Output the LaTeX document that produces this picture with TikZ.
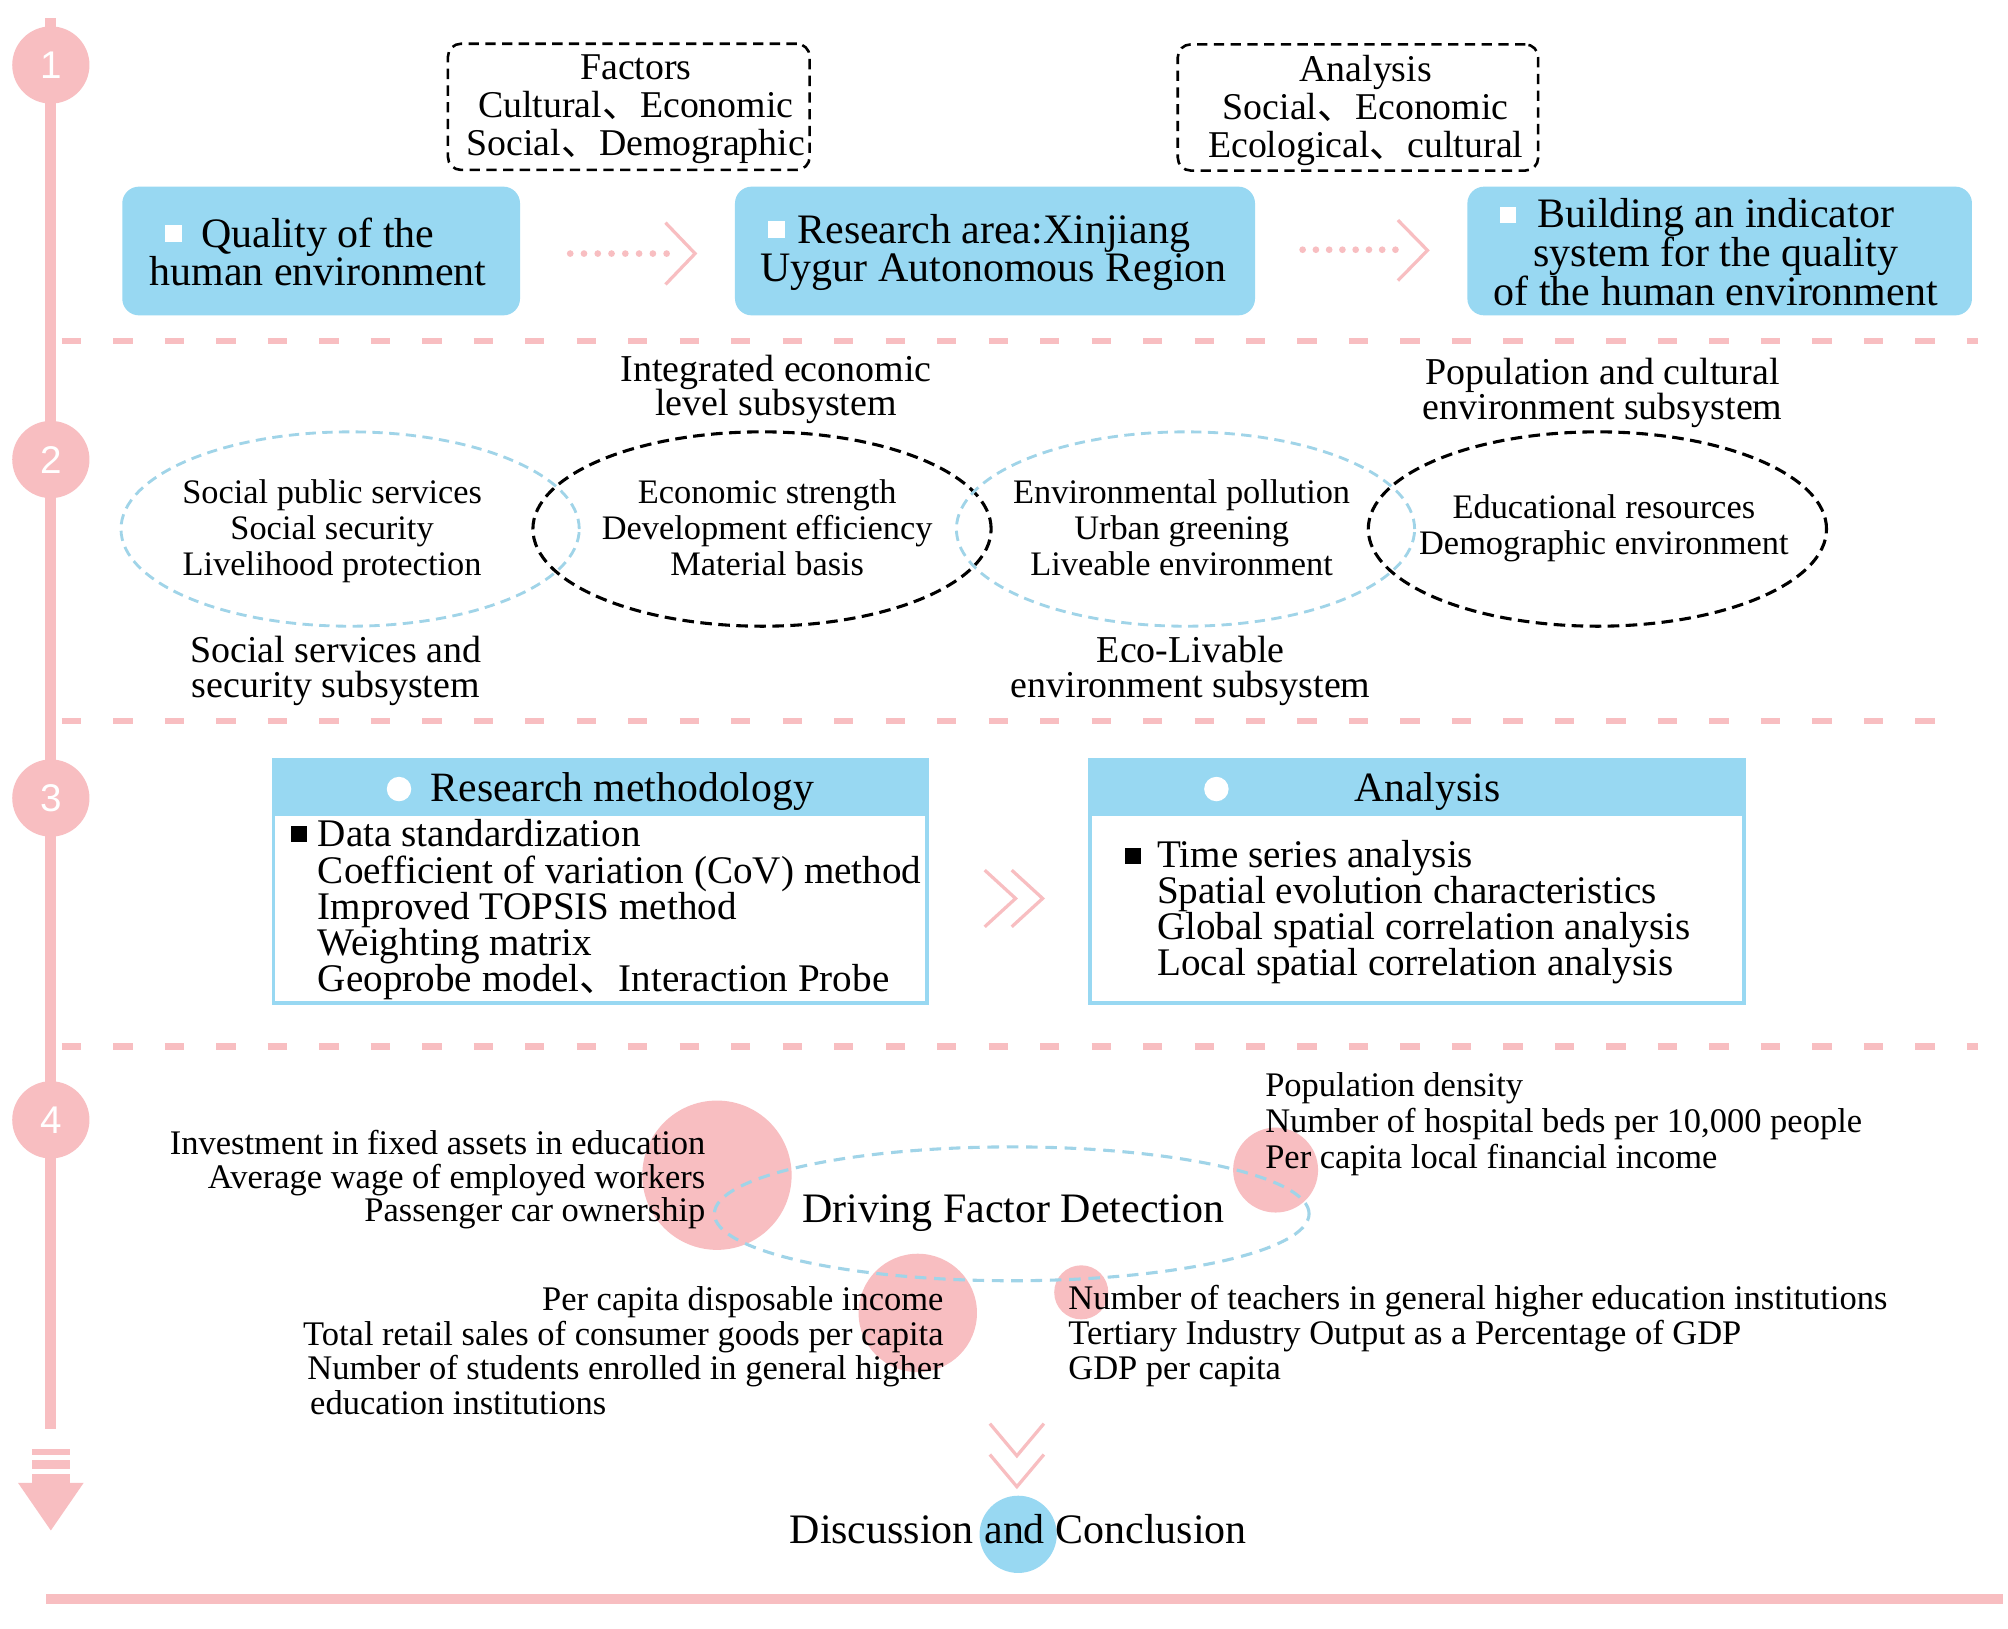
\documentclass[tikz,border=0pt]{standalone}
\usepackage{fontspec}
\setmainfont{Liberation Serif}
\newfontfamily\numfont{Liberation Sans}
\newfontfamily\cjkfont{Noto Sans CJK SC}
\newcommand{\mydun}{{\cjkfont 、}}
\usetikzlibrary{shapes.geometric}
\definecolor{pinkc}{RGB}{248,190,193}
\definecolor{bluebox}{RGB}{152,216,242}
\definecolor{bluedash}{RGB}{160,212,232}
\begin{document}
\begin{tikzpicture}[x=1pt,y=-1pt,
  txt/.style={inner sep=0pt,outer sep=0pt},
  fsA/.style={txt,font=\fontsize{32.6}{30}\selectfont},
  fsB/.style={txt,font=\fontsize{29.4}{29.5}\selectfont},
  fsC/.style={txt,font=\fontsize{26.7}{28}\selectfont},
  fsD/.style={txt,font=\fontsize{29.5}{27}\selectfont},
  fsE/.style={txt,font=\fontsize{32.4}{30}\selectfont},
  fsF/.style={txt,font=\fontsize{30.4}{28}\selectfont},
  fsG/.style={txt,font=\fontsize{26.8}{27}\selectfont},
  numc/.style={circle,fill=pinkc,minimum size=60pt,inner sep=0pt,text=white,font=\numfont\fontsize{30}{30}\selectfont},
  bluebx/.style={rectangle,rounded corners=13pt,fill=bluebox,inner sep=0pt},
  dashbx/.style={rectangle,rounded corners=10pt,draw=black,line width=2pt,dash pattern=on 8pt off 5pt,inner sep=0pt},
  sepline/.style={pinkc,line width=5pt,dash pattern=on 15pt off 25pt},
  bdell/.style={ellipse,draw=bluedash,line width=2.2pt,dash pattern=on 8pt off 5pt,inner sep=0pt,minimum width=356pt,minimum height=151pt},
  kdell/.style={ellipse,draw=black,line width=2.4pt,dash pattern=on 9pt off 5pt,inner sep=0pt,minimum width=356pt,minimum height=151pt},
  whsq/.style={rectangle,fill=white,minimum size=13pt,inner sep=0pt},
  bksq/.style={rectangle,fill=black,minimum size=12.5pt,inner sep=0pt},
  whdot/.style={circle,fill=white,minimum size=19pt,inner sep=0pt},
  pinkcirc/.style={circle,fill=pinkc,inner sep=0pt},
  chev/.style={pinkc,line width=2.5pt},
  methbox/.style={rectangle,draw=bluebox,line width=3pt,fill=white,minimum width=508pt,minimum height=189pt,inner sep=0pt},
  methhead/.style={rectangle,fill=bluebox,minimum width=511pt,minimum height=45pt,inner sep=0pt},
]
\useasboundingbox (0,0) rectangle (1560,1265);
\fill[white] (0,0) rectangle (1560,1265);

% ---------- timeline ----------
\draw[pinkc,line width=8.5pt] (39.5,14) -- (39.5,1110);
\fill[pinkc] (25,1126) rectangle (54,1130);
\fill[pinkc] (25,1134) rectangle (54,1141);
\fill[pinkc] (25,1145) rectangle (54,1152.5);
\fill[pinkc] (14,1152) -- (65,1152) -- (39.5,1189) -- cycle;
\node[numc] (n1) at (39.5,50.5) {1};
\node[numc] (n2) at (39.5,357) {2};
\node[numc] (n3) at (39.5,620) {3};
\node[numc] (n4) at (39.5,870) {4};

% ---------- separators ----------
\draw[sepline] (48,265) -- (1537,265);
\draw[sepline] (48,560) -- (1515,560);
\draw[sepline] (48,813) -- (1537,813);
\draw[pinkc,line width=8pt] (36,1242) -- (1556,1242);

% ---------- section 1 ----------
\node[dashbx,minimum width=281pt,minimum height=98pt] (factors) at (488.5,83) {};
\node[fsB,anchor=base,align=center] (factorsT) at (494,121) {Factors\\Cultural\mydun Economic\\Social\mydun Demographic};
\node[dashbx,minimum width=280pt,minimum height=98pt] (analysis1) at (1055,83.5) {};
\node[fsB,anchor=base,align=center] (analysis1T) at (1061,122.5) {Analysis\\Social\mydun Economic\\Ecological\mydun cultural};

\node[bluebx,minimum width=309pt,minimum height=100pt] (boxA) at (249.5,195) {};
\node[bluebx,minimum width=404pt,minimum height=100pt] (boxB) at (773,195) {};
\node[bluebx,minimum width=392pt,minimum height=100pt] (boxC) at (1336,195) {};
\node[whsq] (bulA) at (135,181.5) {};
\node[whsq] (bulB) at (603,178.5) {};
\node[whsq] (bulC) at (1171.5,167) {};
\node[fsA,anchor=base,align=center] (boxAT) at (247,222) {Quality of the\\human environment};
\node[fsA,anchor=base,align=center] (boxBT) at (772,219) {Research area:Xinjiang\\Uygur Autonomous Region};
\node[fsA,anchor=base,align=center] (boxCT) at (1333,237) {Building an indicator\\system for the quality\\of the human environment};

% dotted arrows
\foreach \i in {0,...,7} \fill[pinkc] (443+\i*10.7,197) circle (2.6pt);
\draw[chev] (517,173) -- (540,197) -- (517,221);
\foreach \i in {0,...,7} \fill[pinkc] (1012+\i*10.3,194) circle (2.6pt);
\draw[chev] (1086,171) -- (1109,194.5) -- (1086,218);

% ---------- section 2 ----------
\node[bdell] (e1) at (272,411) {};
\node[kdell] (e2) at (592,411) {};
\node[bdell] (e3) at (921,411) {};
\node[kdell] (e4) at (1241,411) {};
\node[fsC,anchor=base,align=center] (e1T) at (258,447) {Social public services\\Social security\\Livelihood protection};
\node[fsC,anchor=base,align=center] (e2T) at (596,447) {Economic strength\\Development efficiency\\Material basis};
\node[fsC,anchor=base,align=center] (e3T) at (918,447) {Environmental pollution\\Urban greening\\Liveable environment};
\node[fsC,anchor=base,align=center] (e4T) at (1246,430.5) {Educational resources\\Demographic environment};
\node[fsD,anchor=base,align=center] (l2) at (603,323) {Integrated economic\\level subsystem};
\node[fsD,anchor=base,align=center] (l4) at (1245,326) {Population and cultural\\environment subsystem};
\node[fsD,anchor=base,align=center] (l1) at (261,542) {Social services and\\security subsystem};
\node[fsD,anchor=base,align=center] (l3) at (925,542) {Eco-Livable\\environment subsystem};

% ---------- section 3 ----------
\node[methbox] (rmbox) at (466.5,685) {};
\node[methhead] (rmhead) at (466.5,611.5) {};
\node[whdot] (rmdot) at (310,613) {};
\node[fsE,anchor=base] (rmheadT) at (483.5,623) {Research methodology};
\node[bksq] (rmbul) at (232.5,648) {};
\node[fsF,anchor=base west,align=left] (rmT) at (247,770) {Data standardization\\Coefficient of variation (CoV) method\\Improved TOPSIS method\\Weighting matrix\\Geoprobe model\mydun Interaction Probe};

\node[methbox] (anbox) at (1101,685) {};
\node[methhead] (anhead) at (1101,611.5) {};
\node[whdot] (andot) at (945,613) {};
\node[fsE,anchor=base] (anheadT) at (1109,623) {Analysis};
\node[bksq] (anbul) at (880,665) {};
\node[fsF,anchor=base west,align=left] (anT) at (899,758) {Time series analysis\\Spatial evolution characteristics\\Global spatial correlation analysis\\Local spatial correlation analysis};

\draw[chev] (765,676) -- (789,698) -- (765,720);
\draw[chev] (786,676) -- (810,698) -- (786,720);

% ---------- section 4 ----------
\node[pinkcirc,minimum size=116pt] (c1) at (557,913) {};
\node[pinkcirc,minimum size=92pt] (c2) at (713,1020) {};
\node[pinkcirc,minimum size=66pt] (c3) at (991,909) {};
\node[pinkcirc,minimum size=42pt] (c4) at (840,1004) {};
\node[ellipse,draw=bluedash,line width=2.4pt,dash pattern=on 9pt off 6pt,inner sep=0pt,minimum width=462pt,minimum height=104pt] (dfd) at (786,943) {};
\node[fsA,anchor=base] (dfdT) at (787,950) {Driving Factor Detection};

\node[txt,anchor=base east,align=right,font=\fontsize{26.8}{26}\selectfont] (g1) at (548,949) {Investment in fixed assets in education\\Average wage of employed workers\\Passenger car ownership};
\node[txt,anchor=base west,align=left,font=\fontsize{26.8}{28}\selectfont] (g2) at (983,908) {Population density\\Number of hospital beds per 10,000 people\\Per capita local financial income};
\node[fsG,anchor=base east,align=right] (g3) at (733,1072) {Per capita disposable income\\Total retail sales of consumer goods per capita\\Number of students enrolled in general higher};
\node[fsG,anchor=base west] (g3b) at (241,1099) {education institutions};
\node[txt,anchor=base west,align=left,font=\fontsize{26.8}{27.5}\selectfont] (g4) at (830,1072) {Number of teachers in general higher education institutions\\Tertiary Industry Output as a Percentage of GDP\\GDP per capita};

\draw[chev] (769,1106) -- (790,1131) -- (811,1106);
\draw[chev] (769,1130) -- (790,1155) -- (811,1130);

\node[circle,fill=bluebox,minimum size=60pt,inner sep=0pt] (dcc) at (791,1192) {};
\node[fsA,anchor=base] (dcT) at (791,1199) {Discussion and Conclusion};
\end{tikzpicture}
\end{document}
